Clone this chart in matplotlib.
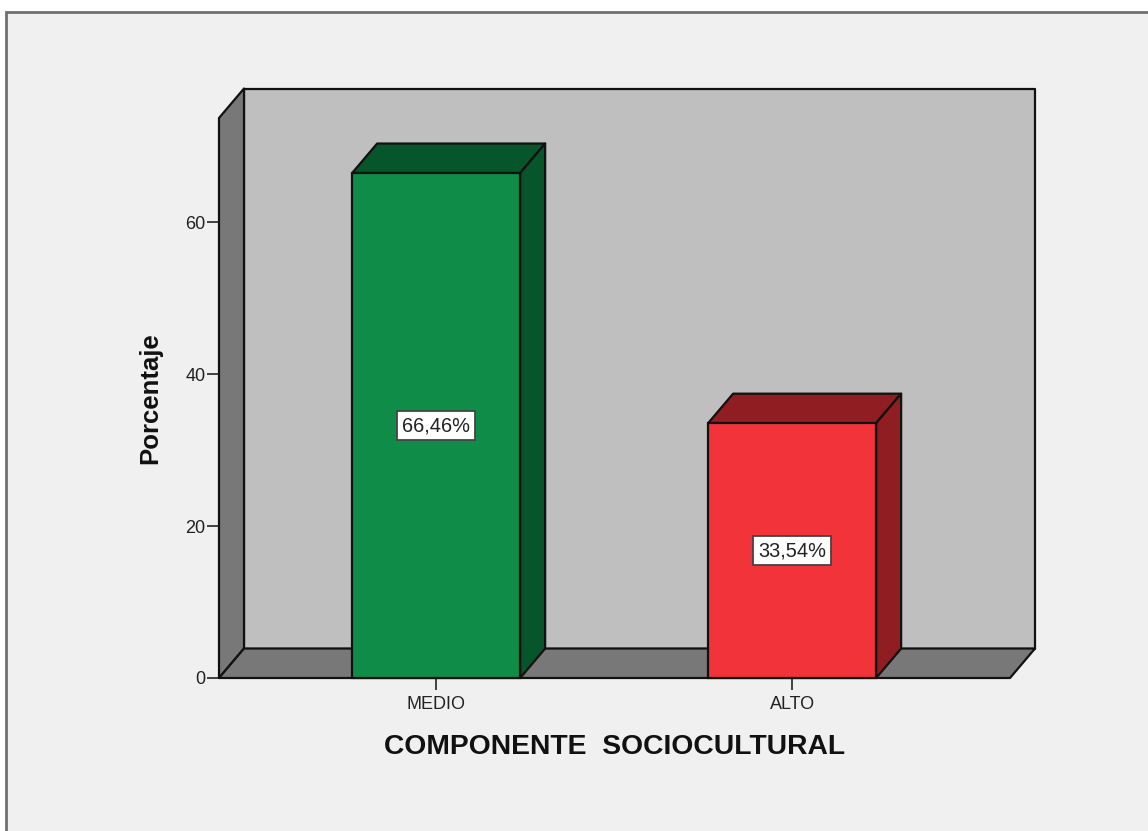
import matplotlib
matplotlib.use('Agg')
import matplotlib.pyplot as plt
from matplotlib.patches import Polygon, Rectangle

categorias = ['MEDIO', 'ALTO']
porcentajes = [66.46, 33.54]
etiquetas = ['66,46%', '33,54%']
y_ticks = [0, 20, 40, 60]

W, H = 1148, 831
BAR_W = 0.472
DX = 0.0702   # depth of the 3D effect, x units
DY = 3.88     # depth of the 3D effect, y units
X_MIN, X_MAX = -0.61, 1.612
Y_MAX = 73.7

plt.rcParams['font.family'] = ['Liberation Sans', 'DejaVu Sans']

fig = plt.figure(figsize=(W/100, H/100), dpi=100, facecolor='white')
# panel border, runs off the right and bottom edges
fig.add_artist(Rectangle((6/W, -0.05), 1.1, 1 - 12/H + 0.05, transform=fig.transFigure,
                         facecolor='#f0f0f0', edgecolor='#707070', lw=2, zorder=-1))

ax = fig.add_axes([219/W, 1 - 678/H, (1010-219)/W, (678-118)/H])
ax.set_xlim(X_MIN, X_MAX)
ax.set_ylim(0, Y_MAX)
ax.patch.set_visible(False)
for s in ax.spines.values():
    s.set_visible(False)


def poly(pts, color, z):
    ax.add_patch(Polygon(pts, closed=True, facecolor=color, edgecolor='#111111',
                         lw=1.6, clip_on=False, zorder=z, joinstyle='round'))


# back wall, left wall and floor
poly([(X_MIN+DX, DY), (X_MAX+DX, DY), (X_MAX+DX, Y_MAX+DY), (X_MIN+DX, Y_MAX+DY)], '#bfbfbf', 1)
poly([(X_MIN, 0), (X_MIN+DX, DY), (X_MIN+DX, Y_MAX+DY), (X_MIN, Y_MAX)], '#787878', 2)
poly([(X_MIN, 0), (X_MAX, 0), (X_MAX+DX, DY), (X_MIN+DX, DY)], '#787878', 2)

colores = ['#0f8c48', '#f23339']
oscuros = ['#07552a', '#901d21']
for i, v in enumerate(porcentajes):
    l, r = i - BAR_W/2, i + BAR_W/2
    poly([(l, v), (r, v), (r+DX, v+DY), (l+DX, v+DY)], oscuros[i], 3)
    poly([(r, 0), (r+DX, DY), (r+DX, v+DY), (r, v)], oscuros[i], 3)
    ax.bar(i, v, width=BAR_W, color=colores[i], edgecolor='#111111', lw=1.6,
           clip_on=False, zorder=4)
    ax.text(i, v/2, etiquetas[i], ha='center', va='center', fontsize=14.4,
            color='#222222', zorder=5,
            bbox=dict(boxstyle='square,pad=0.26', facecolor='white', edgecolor='#444444', lw=1.3))

ax.set_xticks(range(len(categorias)))
ax.set_xticklabels(categorias)
ax.set_yticks(y_ticks)
ax.tick_params(axis='both', length=8.6, width=1.3, color='#333333',
               labelsize=13, labelcolor='#222222')
ax.tick_params(axis='x', pad=4.5)
ax.tick_params(axis='y', pad=1)

ax.set_xlabel('COMPONENTE  SOCIOCULTURAL', fontsize=20.3, fontweight='bold',
              color='#111111', labelpad=15)
ax.set_ylabel('Porcentaje', fontsize=18.5, fontweight='bold', color='#111111', labelpad=17)

fig.savefig('out.png', dpi=100)
